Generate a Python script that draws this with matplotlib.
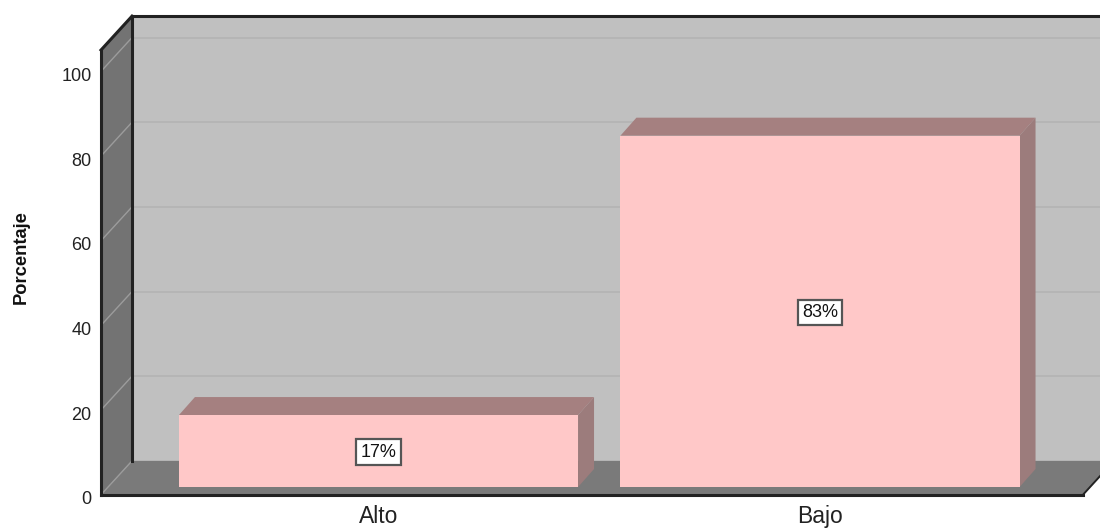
#!/usr/bin/env python3
import matplotlib
matplotlib.use("Agg")
import matplotlib.pyplot as plt
from matplotlib.patches import Polygon, Rectangle

categories = ["Alto", "Bajo"]
percentages = [17, 83]
bar_labels = ["17%", "83%"]
y_ticks = [0, 20, 40, 60, 80, 100]
y_label = "Porcentaje"

# box geometry, in data units (x: category spacing, y: percent)
WALL_X = -0.6285
WALL_END_X = 1.5957
WALL_TOP = 105.05
DEPTH_X = 0.0702
DEPTH_Y = 8.0
BAR_WIDTH = 0.904
BAR_LIFT = 1.82
BAR_DEPTH_X = 0.0362
BAR_DEPTH_Y = 4.25

BACK_COLOR = "#c0c0c0"
FLOOR_COLOR = "#7a7a7a"
SIDE_WALL_COLOR = "#737373"
GRID_COLOR = "#b4b4b4"
SIDE_GRID_COLOR = "#9c9c9c"
FRAME_COLOR = "#222222"
BAR_FRONT = "#ffc8c8"
BAR_TOP = "#a58080"
BAR_SIDE = "#9c7c7c"
TEXT_COLOR = "#222222"

plt.rcParams["font.family"] = ["Liberation Sans", "DejaVu Sans"]

fig = plt.figure(figsize=(11, 5.29), dpi=100)
ax = fig.add_axes([0, 0, 1, 1])
ax.set_xlim(-378.5 / 441.5, 721.5 / 441.5)
ax.set_ylim(-8.1, 116.87)
ax.axis("off")


def poly(points, color, z=1):
    ax.add_patch(Polygon(points, closed=True, facecolor=color, edgecolor="none", zorder=z))


back_x = WALL_X + DEPTH_X
back_end = WALL_END_X + DEPTH_X

# walls and floor
poly([(back_x, DEPTH_Y), (back_end, DEPTH_Y), (back_end, WALL_TOP + DEPTH_Y), (back_x, WALL_TOP + DEPTH_Y)], BACK_COLOR)
poly([(WALL_X, 0), (back_x, DEPTH_Y), (back_x, WALL_TOP + DEPTH_Y), (WALL_X, WALL_TOP)], SIDE_WALL_COLOR)
poly([(WALL_X, 0), (WALL_END_X, 0), (back_end, DEPTH_Y), (back_x, DEPTH_Y)], FLOOR_COLOR)

# gridlines run along the back wall and fold down the side wall
for tick in y_ticks:
    if tick > 0:
        ax.plot([back_x, back_end], [tick + DEPTH_Y, tick + DEPTH_Y], color=GRID_COLOR, lw=1.3, zorder=2)
    ax.plot([WALL_X, back_x], [tick, tick + DEPTH_Y], color=SIDE_GRID_COLOR, lw=1.0, zorder=2)
    ax.text(WALL_X - 0.021, tick - 1.2, str(tick), ha="right", va="center", fontsize=13, color=TEXT_COLOR)

# frame
frame_style = dict(color=FRAME_COLOR, lw=2.2, zorder=3, solid_capstyle="projecting")
ax.plot([WALL_X, WALL_X], [0, WALL_TOP], **frame_style)
ax.plot([back_x, back_x], [DEPTH_Y, WALL_TOP + DEPTH_Y], **frame_style)
ax.plot([WALL_X, back_x], [WALL_TOP, WALL_TOP + DEPTH_Y], **frame_style)
ax.plot([back_x, back_end], [WALL_TOP + DEPTH_Y, WALL_TOP + DEPTH_Y], **frame_style)
ax.plot([WALL_X, WALL_END_X], [0, 0], **frame_style)
ax.plot([WALL_END_X, back_end], [0, DEPTH_Y], color=FRAME_COLOR, lw=1.4, zorder=3)

# bars
for i, value in enumerate(percentages):
    left = i - BAR_WIDTH / 2
    right = i + BAR_WIDTH / 2
    base = BAR_LIFT
    top = BAR_LIFT + value
    poly([(left, top), (right, top), (right + BAR_DEPTH_X, top + BAR_DEPTH_Y), (left + BAR_DEPTH_X, top + BAR_DEPTH_Y)], BAR_TOP, z=4)
    poly([(right, base), (right + BAR_DEPTH_X, base + BAR_DEPTH_Y), (right + BAR_DEPTH_X, top + BAR_DEPTH_Y), (right, top)], BAR_SIDE, z=4)
    ax.add_patch(Rectangle((left, base), BAR_WIDTH, value, facecolor=BAR_FRONT, edgecolor="none", zorder=5))
    ax.text(
        i,
        base + value / 2 - 0.25,
        bar_labels[i],
        ha="center",
        va="center",
        fontsize=13,
        color="#111111",
        zorder=6,
        bbox=dict(boxstyle="square,pad=0.24", facecolor="white", edgecolor="#555555", linewidth=1.6),
    )
    ax.text(i, -5.05, categories[i], ha="center", va="center", fontsize=16.5, color=TEXT_COLOR)

ax.text(-0.8095, 56.1, y_label, rotation=90, ha="center", va="center", fontsize=13.2, fontweight="bold", color="#111111")

fig.savefig("out.png", dpi=100)
plt.close(fig)
